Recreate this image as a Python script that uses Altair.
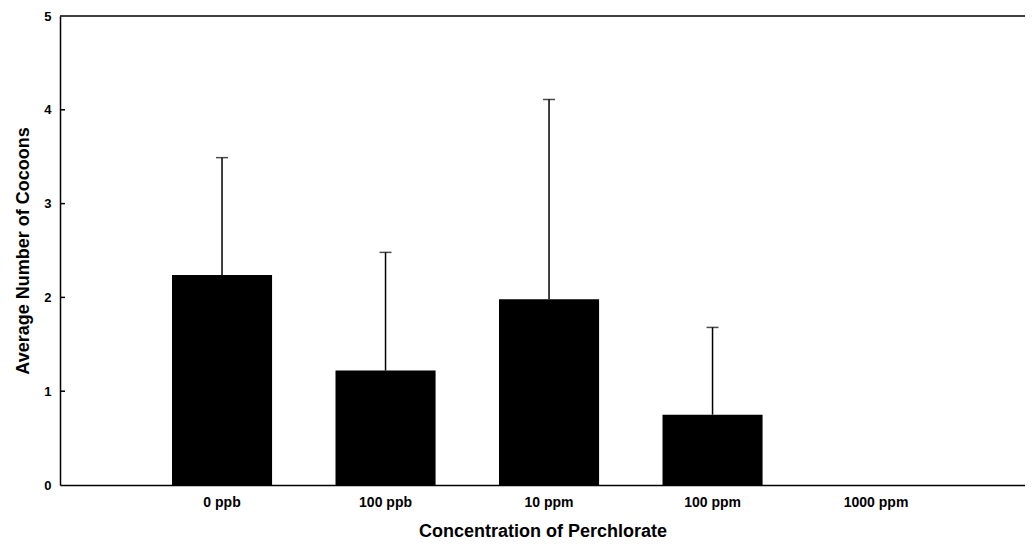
import altair as alt
import pandas as pd

categories = ["0 ppb", "100 ppb", "10 ppm", "100 ppm", "1000 ppm"]
means = [2.24, 1.22, 1.98, 0.75, 0.0]
errors = [1.25, 1.26, 2.13, 0.93, 0.0]
y_ticks = [1, 2, 3, 4]

df = pd.DataFrame({"conc": categories, "mean": means, "err": errors})
df["upper"] = df["mean"] + df["err"]
ticks_df = pd.DataFrame({"t": y_ticks})

FONT = "Liberation Sans"

x = alt.X(
    "conc:N",
    sort=categories,
    scale=alt.Scale(paddingInner=0.388, paddingOuter=0.645, align=0.531),
    axis=alt.Axis(
        title="Concentration of Perchlorate",
        labelAngle=0,
        ticks=False,
        labelPadding=10,
        labelFontSize=14,
        labelFontWeight="bold",
        titleFontSize=18,
        titleFontWeight="bold",
        titlePadding=13,
    ),
)
y = alt.Y(
    "mean:Q",
    scale=alt.Scale(domain=[0, 5], nice=False),
    axis=alt.Axis(
        title="Average Number of Cocoons",
        values=[0, 1, 2, 3, 4, 5],
        format="d",
        ticks=False,
        labelPadding=9,
        labelFontSize=13,
        labelFontWeight="bold",
        titleFontSize=18,
        titleFontWeight="bold",
        titlePadding=11,
        grid=False,
    ),
)

base = alt.Chart(df)

bars = base.mark_bar(color="black").encode(x=x, y=y)

rules = base.transform_filter("datum.err > 0").mark_rule(
    color="black", strokeWidth=1.5
).encode(x=alt.X("conc:N", sort=categories), y="mean:Q", y2="upper:Q")

caps = base.transform_filter("datum.err > 0").mark_tick(
    color="black", size=12, thickness=1.5
).encode(x=alt.X("conc:N", sort=categories), y=alt.Y("upper:Q"))

top_line = base.transform_filter("datum.conc == '0 ppb'").mark_rule(
    color="black", strokeWidth=1.5
).encode(y=alt.datum(5))

inner_ticks = alt.Chart(ticks_df).mark_rule(color="black", strokeWidth=1.5).encode(
    y=alt.Y("t:Q"), x=alt.value(0), x2=alt.value(5)
)

chart = (
    alt.layer(bars, rules, caps, top_line, inner_ticks)
    .properties(
        width=965,
        height=469,
        autosize=alt.AutoSizeParams(type="none"),
        padding={"left": 52, "top": 8, "right": 0, "bottom": 55},
    )
    .configure_view(stroke=None)
    .configure_axis(
        domainColor="black",
        domainWidth=1.5,
        labelColor="black",
        titleColor="black",
        labelFont=FONT,
        titleFont=FONT,
    )
)

chart.save("out.html", embed_options={"renderer": "svg", "actions": False})
